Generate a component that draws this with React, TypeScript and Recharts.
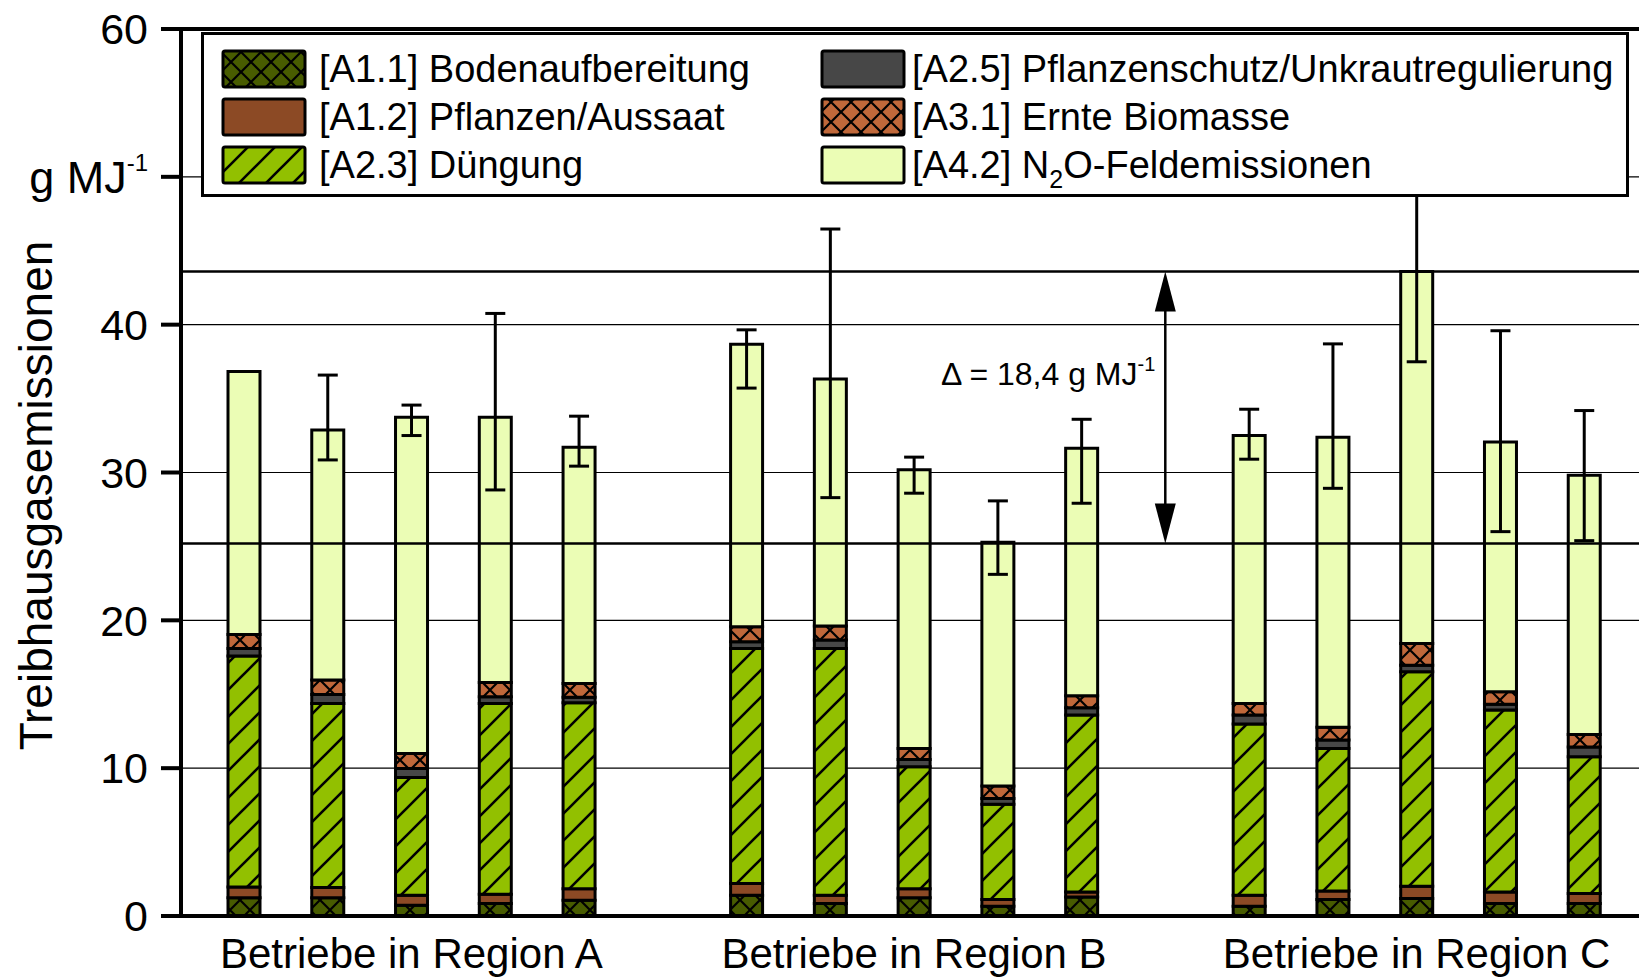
import React from 'react';
import {
  BarChart,
  Bar,
  XAxis,
  YAxis,
  CartesianGrid,
  ReferenceLine,
  ReferenceDot,
  ErrorBar,
  Legend,
} from 'recharts';

// ---------- data ----------
const categories = ['A1', 'A2', 'A3', 'A4', 'A5', 'gap1', 'B1', 'B2', 'B3', 'B4', 'B5', 'gap2', 'C1', 'C2', 'C3', 'C4', 'C5'];
const regionLabels = ['Betriebe in Region A', 'Betriebe in Region B', 'Betriebe in Region C'];
const regionLabelAt = ['A3', 'B3', 'C3'];

const boden = [1.24, 1.24, 0.72, 0.84, 1.06, null, 1.4, 0.84, 1.24, 0.66, 1.29, null, 0.66, 1.11, 1.18, 0.84, 0.84];
const pflanzen = [0.72, 0.68, 0.68, 0.63, 0.79, null, 0.79, 0.56, 0.61, 0.45, 0.34, null, 0.74, 0.58, 0.83, 0.79, 0.68];
const duengung = [15.62, 12.46, 7.97, 12.91, 12.57, null, 15.91, 16.7, 8.24, 6.45, 11.96, null, 11.58, 9.64, 14.51, 12.3, 9.25];
const schutz = [0.52, 0.61, 0.61, 0.45, 0.37, null, 0.45, 0.57, 0.5, 0.39, 0.49, null, 0.61, 0.57, 0.45, 0.4, 0.67];
const ernte = [0.95, 0.97, 1.02, 0.97, 0.94, null, 1.02, 0.94, 0.74, 0.85, 0.82, null, 0.79, 0.86, 1.47, 0.84, 0.84];
const n2o = [17.78, 16.92, 22.74, 17.94, 15.98, null, 19.11, 16.71, 18.85, 16.48, 16.74, null, 18.12, 19.63, 25.16, 16.9, 17.54];
const errLow = [null, 2.03, 1.24, 4.92, 1.28, null, 2.97, 8.02, 1.58, 2.17, 3.72, null, 1.6, 3.46, 6.11, 6.07, 4.43];
const errHigh = [null, 3.71, 0.82, 7.02, 2.1, null, 0.97, 10.15, 0.86, 2.8, 1.96, null, 1.78, 6.31, 6.11, 7.52, 4.37];

const yTicks = [0, 10, 20, 30, 40, 50, 60];
const unitTick = 50;
const levelHigh = 43.6;
const levelLow = 25.2;
const deltaText = 'Δ = 18,4 g MJ';
const deltaTextY = 36.7;
const arrowCategory = 'gap2';

const seriesKeys = ['boden', 'pflanzen', 'duengung', 'schutz', 'ernte', 'n2o'];
const seriesNames = [
  '[A1.1] Bodenaufbereitung',
  '[A1.2] Pflanzen/Aussaat',
  '[A2.3] Düngung',
  '[A2.5] Pflanzenschutz/Unkrautregulierung',
  '[A3.1] Ernte Biomasse',
  '[A4.2] N₂O-Feldemissionen',
];
const seriesValues = [boden, pflanzen, duengung, schutz, ernte, n2o];

const data = categories.map((name, i) => {
  const row: any = { name };
  seriesKeys.forEach((k, j) => {
    row[k] = seriesValues[j][i];
  });
  row.err = errLow[i] == null ? null : [errLow[i], errHigh[i]];
  return row;
});

// ---------- styles ----------
const FONT = '"Liberation Sans", Arial, Helvetica, sans-serif';
const COLORS = {
  boden: '#485c00',
  pflanzen: '#8c4a25',
  duengung: '#92c000',
  schutz: '#474747',
  ernte: '#c0683a',
  n2o: '#ebfdb5',
};

const makeDefs = (prefix: string) => (
  <defs>
    <pattern id={`${prefix}-boden`} patternUnits="userSpaceOnUse" width={20} height={20}>
      <rect width={20} height={20} fill={COLORS.boden} />
      <path d="M0,0 L20,20 M20,0 L0,20" stroke="#000" strokeWidth={2.2} />
    </pattern>
    <pattern id={`${prefix}-ernte`} patternUnits="userSpaceOnUse" width={20} height={20}>
      <rect width={20} height={20} fill={COLORS.ernte} />
      <path d="M0,0 L20,20 M20,0 L0,20" stroke="#000" strokeWidth={2.2} />
    </pattern>
    <pattern id={`${prefix}-duengung`} patternUnits="userSpaceOnUse" width={27} height={27}>
      <rect width={27} height={27} fill={COLORS.duengung} />
      <path d="M0,27 L27,0 M-3,3 L3,-3 M24,30 L30,24" stroke="#000" strokeWidth={2.6} />
    </pattern>
  </defs>
);

const fillFor = (prefix: string, key: string) => {
  if (key === 'boden' || key === 'ernte' || key === 'duengung') return `url(#${prefix}-${key})`;
  return (COLORS as any)[key];
};

// ---------- axis ticks ----------
const YTick = (props: any) => {
  const { x, y, payload } = props;
  if (payload.value === unitTick) {
    return (
      <text x={x} y={y} dy="0.355em" textAnchor="end" fontFamily={FONT} fontSize={45} fill="#000">
        g MJ<tspan dy={-22} fontSize={24}>-1</tspan>
      </text>
    );
  }
  return (
    <text x={x} y={y} dy="0.355em" textAnchor="end" fontFamily={FONT} fontSize={43} fill="#000">
      {payload.value}
    </text>
  );
};

const XTick = (props: any) => {
  const { x, y, payload } = props;
  const idx = regionLabelAt.indexOf(payload.value);
  if (idx < 0) return null;
  return (
    <text x={x} y={y} dy={52} textAnchor="middle" fontFamily={FONT} fontSize={42} fill="#000">
      {regionLabels[idx]}
    </text>
  );
};

const YTitle = (props: any) => {
  const vb = props.viewBox || { x: 0, y: 0, width: 0, height: 0 };
  const cx = vb.x + 52;
  const cy = vb.y + vb.height / 2 + 23;
  return (
    <text
      transform={`translate(${cx}, ${cy}) rotate(-90)`}
      textAnchor="middle"
      fontFamily={FONT}
      fontSize={46}
      fill="#000"
    >
      Treibhausgasemissionen
    </text>
  );
};

// ---------- annotation shapes ----------
const ArrowShape = (props: any) => {
  const { x1, y1, x2, y2 } = props;
  const head = 40;
  const half = 10.5;
  const top = Math.min(y1, y2);
  const bot = Math.max(y1, y2);
  return (
    <g>
      <line x1={x1} y1={top + head - 2} x2={x2} y2={bot - head + 2} stroke="#000" strokeWidth={2.5} />
      <polygon points={`${x1},${top} ${x1 - half},${top + head} ${x1 + half},${top + head}`} fill="#000" />
      <polygon points={`${x1},${bot} ${x1 - half},${bot - head} ${x1 + half},${bot - head}`} fill="#000" />
    </g>
  );
};

const DeltaLabel = (props: any) => {
  const { cx, cy } = props;
  return (
    <text x={cx - 10} y={cy} dy="0.355em" textAnchor="end" fontFamily={FONT} fontSize={32} fill="#000">
      {deltaText}
      <tspan dy={-14} fontSize={20}>-1</tspan>
    </text>
  );
};

// ---------- legend ----------
const legendLayout = [
  { col: 0, row: 0 },
  { col: 0, row: 1 },
  { col: 0, row: 2 },
  { col: 1, row: 0 },
  { col: 1, row: 1 },
  { col: 1, row: 2 },
];
const LEG_W = 1428;
const LEG_H = 165;
const colSwatchX = [22, 621];
const colTextX = [118, 711];
const rowY = [37, 85, 133];

const LegendContent = () => (
  <div
    style={{
      width: LEG_W,
      height: LEG_H,
      boxSizing: 'border-box',
      border: '3px solid #000',
      background: '#fff',
      position: 'relative',
    }}
  >
    <svg
      width={LEG_W}
      height={LEG_H}
      style={{ position: 'absolute', left: -3, top: -3, overflow: 'visible' }}
    >
      {makeDefs('lg')}
      {seriesKeys.map((k, i) => {
        const { col, row } = legendLayout[i];
        const cy = rowY[row];
        const name = seriesNames[i];
        const isN2O = k === 'n2o';
        return (
          <g key={k}>
            <rect
              x={colSwatchX[col]}
              y={cy - 18}
              width={82}
              height={36}
              fill={fillFor('lg', k)}
              stroke="#000"
              strokeWidth={3}
              rx={2}
            />
            <text x={colTextX[col]} y={cy + 13} fontFamily={FONT} fontSize={38} fill="#000">
              {isN2O ? (
                <>
                  {'[A4.2] N'}
                  <tspan dy={10} fontSize={25}>2</tspan>
                  <tspan dy={-10} fontSize={38}>O-Feldemissionen</tspan>
                </>
              ) : (
                name
              )}
            </text>
          </g>
        );
      })}
    </svg>
  </div>
);

export default function App() {
  return (
    <div style={{ position: 'absolute', left: 0, top: 0, width: 1639, height: 978, background: '#fff', fontFamily: FONT }}>
      <BarChart
        width={1639}
        height={978}
        data={data}
        margin={{ top: 29, right: 0, bottom: 2, left: 0 }}
      >
        {makeDefs('bc')}
        <CartesianGrid horizontal vertical={false} stroke="#000" strokeWidth={1.2} />
        <XAxis
          dataKey="name"
          type="category"
          padding={{ left: 21, right: 13 }}
          height={60}
          interval={0}
          tickLine={false}
          tickSize={0}
          tickMargin={0}
          axisLine={{ stroke: '#000', strokeWidth: 4 }}
          tick={<XTick />}
        />
        <YAxis
          width={181}
          domain={[0, 60]}
          allowDataOverflow
          ticks={yTicks}
          interval={0}
          tickSize={20}
          tickMargin={13}
          axisLine={{ stroke: '#000', strokeWidth: 4 }}
          tickLine={{ stroke: '#000', strokeWidth: 4 }}
          tick={<YTick />}
          label={(p: any) => <YTitle {...p} />}
        />
        {seriesKeys.map((k, i) => (
          <Bar
            key={k}
            dataKey={k}
            name={seriesNames[i]}
            stackId="s"
            fill={fillFor('bc', k)}
            stroke="#000"
            strokeWidth={3}
            barSize={32}
            isAnimationActive={false}
          >
            {k === 'n2o' ? (
              <ErrorBar dataKey="err" width={10} stroke="#000" strokeWidth={3} direction="y" isAnimationActive={false} />
            ) : null}
          </Bar>
        ))}
        <ReferenceLine y={60} stroke="#000" strokeWidth={4} />
        <ReferenceLine y={levelHigh} stroke="#000" strokeWidth={2.4} />
        <ReferenceLine y={levelLow} stroke="#000" strokeWidth={2.4} />
        <ReferenceLine
          segment={[
            { x: arrowCategory, y: levelHigh },
            { x: arrowCategory, y: levelLow },
          ]}
          stroke="#000"
          shape={(p: any) => <ArrowShape {...p} />}
        />
        <ReferenceDot x={arrowCategory} y={deltaTextY} r={0} shape={(p: any) => <DeltaLabel {...p} />} />
        <Legend
          layout="horizontal"
          verticalAlign="middle"
          align="center"
          wrapperStyle={{ left: 201, top: 32, width: LEG_W, height: LEG_H }}
          content={() => <LegendContent />}
        />
      </BarChart>
    </div>
  );
}
